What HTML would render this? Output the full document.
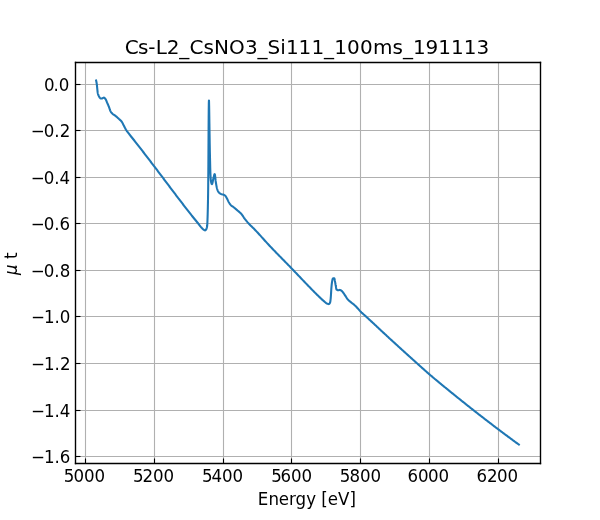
<!DOCTYPE html>
<html lang="en"><head><meta charset="utf-8"><title>Cs-L2_CsNO3_Si111_100ms_191113</title>
<style>html,body{margin:0;padding:0;background:#fff}svg{display:block}</style></head>
<body>
<svg width="600" height="520" viewBox="0 0 600 520">
<rect width="600" height="520" fill="#ffffff"/>
<g stroke="#b0b0b0" stroke-width="1.111" fill="none">
<line x1="85.5" y1="62.4" x2="85.5" y2="462.8"/>
<line x1="154.5" y1="62.4" x2="154.5" y2="462.8"/>
<line x1="223.5" y1="62.4" x2="223.5" y2="462.8"/>
<line x1="291.5" y1="62.4" x2="291.5" y2="462.8"/>
<line x1="360.5" y1="62.4" x2="360.5" y2="462.8"/>
<line x1="429.5" y1="62.4" x2="429.5" y2="462.8"/>
<line x1="498.5" y1="62.4" x2="498.5" y2="462.8"/>
<line x1="75.0" y1="84.5" x2="540.0" y2="84.5"/>
<line x1="75.0" y1="130.5" x2="540.0" y2="130.5"/>
<line x1="75.0" y1="177.5" x2="540.0" y2="177.5"/>
<line x1="75.0" y1="223.5" x2="540.0" y2="223.5"/>
<line x1="75.0" y1="270.5" x2="540.0" y2="270.5"/>
<line x1="75.0" y1="316.5" x2="540.0" y2="316.5"/>
<line x1="75.0" y1="363.5" x2="540.0" y2="363.5"/>
<line x1="75.0" y1="410.5" x2="540.0" y2="410.5"/>
<line x1="75.0" y1="456.5" x2="540.0" y2="456.5"/>
</g>
<clipPath id="c"><rect x="75.0" y="62.4" width="465.0" height="400.40000000000003"/></clipPath>
<polyline clip-path="url(#c)" points="96.14,80.60 96.34,81.55 96.52,82.51 96.68,83.46 96.82,84.42 96.90,85.00 96.95,85.38 97.04,86.35 97.13,87.31 97.20,88.00 97.23,88.28 97.32,89.25 97.41,90.22 97.51,91.19 97.63,92.15 97.78,93.10 97.80,93.20 98.00,94.04 98.32,94.97 98.71,95.88 99.16,96.73 99.20,96.80 99.70,97.62 100.38,98.33 100.60,98.40 101.27,98.47 102.00,98.50 102.25,98.46 103.13,97.90 103.80,97.60 103.96,97.62 104.75,98.13 105.44,98.97 105.60,99.20 105.93,99.76 106.33,100.65 106.68,101.58 107.00,102.40 107.04,102.50 107.44,103.38 107.83,104.27 108.22,105.16 108.40,105.60 108.59,106.06 108.94,106.96 109.28,107.87 109.40,108.20 109.59,108.79 109.88,109.73 110.20,110.60 110.21,110.62 110.66,111.48 111.21,112.31 111.82,113.08 112.30,113.60 112.47,113.76 113.22,114.35 114.04,114.88 114.88,115.42 115.40,115.80 115.65,116.00 116.40,116.62 117.13,117.26 117.85,117.91 118.56,118.57 118.80,118.80 119.27,119.23 120.01,119.89 120.72,120.57 121.38,121.27 121.80,121.80 121.95,122.02 122.43,122.85 122.87,123.73 123.30,124.61 123.50,125.00 123.75,125.47 124.20,126.33 124.64,127.20 125.09,128.06 125.56,128.91 126.04,129.75 126.20,130.00 126.56,130.56 127.11,131.36 127.69,132.14 128.27,132.91 128.87,133.68 129.46,134.45 129.50,134.50 130.06,135.22 130.66,135.98 131.27,136.73 131.88,137.49 132.49,138.24 133.10,139.00 133.70,139.75 133.90,140.00 134.31,140.51 134.91,141.28 135.50,142.04 136.10,142.80 136.70,143.57 137.30,144.33 137.89,145.09 138.49,145.86 139.09,146.63 139.68,147.39 140.27,148.16 140.87,148.93 141.46,149.69 142.05,150.46 142.65,151.23 143.24,152.00 143.83,152.76 144.42,153.53 145.01,154.30 145.60,155.07 146.20,155.84 146.79,156.61 147.38,157.38 147.97,158.15 148.55,158.92 149.14,159.69 149.73,160.46 150.32,161.23 150.91,162.00 151.50,162.77 152.09,163.54 152.68,164.32 153.27,165.09 153.86,165.86 154.44,166.63 154.50,166.70 155.03,167.40 155.62,168.17 156.21,168.94 156.80,169.71 157.38,170.49 157.97,171.26 158.55,172.03 159.14,172.81 159.72,173.58 160.31,174.35 160.89,175.13 161.48,175.90 162.06,176.68 162.64,177.45 163.23,178.23 163.81,179.00 164.39,179.78 164.98,180.55 165.56,181.33 166.14,182.10 166.73,182.88 167.31,183.65 167.89,184.43 168.48,185.20 169.06,185.98 169.64,186.75 170.23,187.53 170.81,188.30 171.39,189.07 171.98,189.85 172.56,190.62 173.15,191.40 173.73,192.17 174.32,192.94 174.91,193.71 175.49,194.49 176.08,195.26 176.67,196.03 177.26,196.80 177.85,197.57 178.25,198.10 178.44,198.34 179.02,199.11 179.61,199.88 180.20,200.65 180.79,201.42 181.38,202.19 181.97,202.96 182.56,203.73 183.15,204.50 183.74,205.27 184.33,206.04 184.93,206.81 185.52,207.58 186.11,208.35 186.71,209.11 187.30,209.88 187.90,210.64 188.49,211.41 189.09,212.17 189.69,212.94 190.29,213.70 190.89,214.46 191.40,215.10 191.49,215.22 192.10,215.98 192.71,216.73 193.32,217.48 193.93,218.24 194.54,218.99 195.16,219.74 195.77,220.49 196.39,221.24 197.00,221.99 197.61,222.74 198.22,223.50 198.30,223.60 198.82,224.26 199.41,225.04 200.00,225.81 200.60,226.57 201.23,227.31 201.40,227.50 201.88,228.03 202.56,228.74 203.28,229.39 203.70,229.70 204.08,229.95 204.97,230.39 205.10,230.40 205.74,230.02 206.35,229.11 206.40,229.00 206.67,228.26 206.92,227.31 207.10,226.32 207.20,225.50 207.21,225.34 207.28,224.38 207.34,223.41 207.39,222.44 207.43,221.47 207.46,220.50 207.50,219.53 207.50,219.40 207.53,218.56 207.57,217.59 207.60,216.62 207.63,215.65 207.66,214.68 207.69,213.71 207.71,212.74 207.74,211.77 207.77,210.80 207.79,209.83 207.80,209.40 207.81,208.86 207.84,207.89 207.86,206.92 207.88,205.95 207.90,204.98 207.92,204.02 207.94,203.05 207.96,202.08 207.98,201.11 208.00,200.14 208.02,199.17 208.03,198.20 208.05,197.23 208.07,196.26 208.08,195.29 208.10,194.32 208.10,194.00 208.11,193.35 208.12,192.38 208.13,191.41 208.14,190.44 208.16,189.47 208.17,188.50 208.18,187.53 208.19,186.56 208.20,185.59 208.21,184.62 208.21,183.65 208.22,182.68 208.23,181.71 208.24,180.74 208.25,180.00 208.25,179.77 208.26,178.78 208.27,177.77 208.28,176.74 208.29,175.69 208.30,174.62 208.31,173.52 208.32,172.41 208.33,171.29 208.33,170.14 208.34,168.98 208.35,167.81 208.36,166.62 208.37,165.42 208.38,164.21 208.38,162.98 208.39,161.75 208.40,160.50 208.41,159.25 208.42,157.99 208.42,156.72 208.43,155.45 208.44,154.17 208.45,152.88 208.45,151.59 208.46,150.30 208.47,149.01 208.48,147.72 208.48,146.42 208.49,145.13 208.50,143.84 208.51,142.55 208.51,141.27 208.52,139.99 208.53,138.71 208.54,137.45 208.54,136.18 208.55,134.93 208.56,133.68 208.56,132.45 208.57,131.22 208.58,130.01 208.59,128.80 208.59,127.61 208.60,126.44 208.61,125.28 208.62,124.13 208.63,123.00 208.63,121.89 208.64,120.80 208.65,119.72 208.66,118.67 208.66,117.64 208.67,116.62 208.68,115.63 208.69,114.67 208.70,113.73 208.71,112.81 208.71,111.92 208.72,111.06 208.73,110.22 208.74,109.41 208.75,108.63 208.76,107.89 208.77,107.17 208.78,106.49 208.79,105.83 208.80,105.22 208.80,104.63 208.81,104.09 208.82,103.58 208.83,103.10 208.84,102.67 208.85,102.27 208.87,101.91 208.88,101.60 208.89,101.32 208.90,101.09 208.91,100.91 208.92,100.76 208.93,100.66 208.94,100.61 208.95,100.60 208.95,100.60 208.97,100.66 208.98,100.77 208.99,100.95 209.00,101.18 209.02,101.47 209.03,101.82 209.04,102.22 209.05,102.67 209.07,103.17 209.08,103.72 209.09,104.32 209.11,104.96 209.12,105.64 209.14,106.37 209.15,107.14 209.17,107.95 209.18,108.80 209.20,109.69 209.21,110.60 209.23,111.56 209.24,112.54 209.26,113.56 209.27,114.60 209.29,115.67 209.31,116.76 209.32,117.88 209.34,119.02 209.36,120.19 209.37,121.37 209.39,122.57 209.41,123.79 209.43,125.02 209.44,126.26 209.46,127.51 209.48,128.78 209.50,130.05 209.52,131.34 209.54,132.62 209.56,133.91 209.58,135.20 209.60,136.50 209.62,137.79 209.64,139.08 209.66,140.36 209.68,141.64 209.70,142.92 209.72,144.18 209.75,145.44 209.77,146.68 209.79,147.91 209.81,149.12 209.83,150.32 209.86,151.50 209.88,152.66 209.91,153.80 209.93,154.92 209.95,156.01 209.98,157.08 210.00,158.12 210.03,159.13 210.05,160.00 210.05,160.12 210.08,161.09 210.10,162.06 210.12,163.03 210.15,164.01 210.17,164.98 210.19,165.96 210.21,166.93 210.24,167.91 210.26,168.88 210.29,169.86 210.32,170.83 210.35,171.80 210.39,172.77 210.43,173.74 210.47,174.71 210.52,175.68 210.57,176.64 210.63,177.60 210.69,178.56 210.76,179.51 210.80,180.00 210.85,180.50 211.05,181.71 211.33,182.91 211.63,183.84 211.90,184.20 211.90,184.20 212.14,183.93 212.39,183.23 212.62,182.21 212.87,181.02 213.11,179.77 213.35,178.60 213.50,178.00 213.60,177.59 213.88,176.39 214.16,175.20 214.41,174.30 214.60,174.00 214.62,174.00 214.80,174.27 214.95,174.91 215.09,175.83 215.22,176.95 215.35,178.19 215.48,179.47 215.62,180.70 215.77,181.79 215.80,182.00 215.92,182.76 216.08,183.72 216.23,184.69 216.40,185.65 216.58,186.61 216.78,187.55 217.01,188.48 217.10,188.80 217.29,189.40 217.63,190.35 218.05,191.26 218.53,192.07 218.70,192.30 219.13,192.77 219.91,193.40 220.77,193.90 221.00,194.00 221.66,194.21 222.62,194.43 223.20,194.60 223.55,194.73 224.46,195.15 225.00,195.50 225.20,195.68 225.79,196.43 226.31,197.30 226.70,198.00 226.79,198.16 227.24,199.02 227.65,199.90 228.06,200.79 228.49,201.66 228.85,202.30 228.97,202.49 229.48,203.33 230.04,204.14 230.63,204.90 231.00,205.30 231.29,205.58 232.05,206.16 232.87,206.71 233.68,207.26 234.00,207.50 234.45,207.86 235.19,208.48 235.93,209.12 236.66,209.76 237.38,210.40 237.50,210.50 238.12,211.03 238.87,211.66 239.62,212.29 240.35,212.93 241.04,213.61 241.40,214.00 241.67,214.32 242.25,215.09 242.79,215.89 243.32,216.71 243.86,217.53 244.40,218.30 244.42,218.32 245.00,219.10 245.60,219.86 246.20,220.63 246.82,221.38 247.44,222.12 248.08,222.85 248.30,223.10 248.73,223.57 249.39,224.27 250.07,224.96 250.77,225.64 251.46,226.31 252.17,226.99 252.86,227.66 253.56,228.34 254.24,229.03 254.40,229.20 254.91,229.73 255.58,230.43 256.24,231.14 256.91,231.85 257.57,232.56 258.22,233.27 258.88,233.99 259.53,234.70 260.19,235.42 260.84,236.14 261.49,236.86 262.14,237.58 262.78,238.30 263.43,239.02 264.08,239.75 264.73,240.47 265.38,241.19 266.03,241.91 266.69,242.62 267.34,243.34 268.00,244.05 268.66,244.76 269.32,245.47 269.98,246.18 270.00,246.20 270.65,246.89 271.32,247.59 271.98,248.29 272.65,248.99 273.33,249.69 274.00,250.39 274.67,251.09 275.35,251.78 276.02,252.48 276.70,253.18 277.38,253.87 278.05,254.56 278.73,255.26 279.41,255.95 280.09,256.64 280.77,257.33 281.45,258.03 282.13,258.72 282.81,259.41 283.49,260.10 284.17,260.79 284.85,261.49 285.53,262.18 286.21,262.87 286.89,263.56 287.57,264.26 288.24,264.95 288.92,265.64 289.60,266.34 290.27,267.04 290.95,267.73 291.40,268.20 291.62,268.43 292.30,269.13 292.97,269.83 293.64,270.53 294.31,271.23 294.98,271.93 295.65,272.63 296.32,273.33 296.99,274.03 297.66,274.73 298.33,275.43 299.00,276.14 299.67,276.84 300.34,277.54 301.01,278.24 301.68,278.94 302.35,279.64 303.02,280.35 303.69,281.05 304.36,281.75 305.03,282.45 305.70,283.15 306.37,283.85 307.05,284.55 307.72,285.24 308.39,285.94 309.07,286.64 309.74,287.34 310.00,287.60 310.42,288.03 311.10,288.73 311.77,289.42 312.45,290.12 313.13,290.81 313.81,291.50 314.49,292.19 315.00,292.70 315.18,292.88 315.86,293.56 316.55,294.25 317.24,294.93 317.93,295.61 318.62,296.29 319.32,296.96 320.00,297.60 320.03,297.63 320.73,298.29 321.44,298.95 322.16,299.61 322.88,300.26 323.61,300.90 324.20,301.40 324.35,301.52 325.09,302.18 325.84,302.82 326.63,303.36 326.90,303.50 327.52,303.78 328.46,304.08 328.70,304.10 329.29,303.81 329.94,302.95 330.00,302.80 330.20,302.11 330.38,301.18 330.51,300.18 330.62,299.16 330.70,298.30 330.71,298.18 330.80,297.22 330.87,296.25 330.94,295.28 331.00,294.31 331.05,293.34 331.11,292.38 331.16,291.41 331.22,290.44 331.28,289.47 331.35,288.50 331.40,287.90 331.43,287.53 331.52,286.56 331.60,285.59 331.70,284.62 331.81,283.66 331.94,282.70 332.09,281.75 332.10,281.70 332.27,280.65 332.51,279.44 332.83,278.50 333.20,278.20 333.32,278.20 334.20,278.20 334.25,278.21 334.56,278.85 334.75,280.04 334.90,281.00 334.93,281.15 335.12,282.10 335.29,283.05 335.46,284.01 335.62,284.97 335.80,285.90 335.80,285.92 335.97,286.94 336.13,288.01 336.33,288.97 336.60,289.60 336.65,289.67 337.51,290.20 338.00,290.30 338.47,290.22 339.42,289.93 339.70,289.90 340.35,290.04 341.24,290.53 341.50,290.70 341.97,291.10 342.60,291.84 343.18,292.66 343.50,293.10 343.76,293.45 344.31,294.25 344.84,295.06 345.38,295.87 345.60,296.20 345.92,296.68 346.44,297.51 346.97,298.33 347.53,299.12 348.00,299.70 348.14,299.85 348.83,300.52 349.58,301.15 350.34,301.77 350.50,301.90 351.09,302.37 351.86,302.96 352.64,303.55 353.20,304.00 353.39,304.16 354.13,304.79 354.86,305.43 355.57,306.09 356.00,306.50 356.26,306.76 356.93,307.47 357.57,308.19 358.20,308.93 358.84,309.67 359.47,310.40 360.13,311.12 360.50,311.50 360.81,311.81 361.51,312.48 362.22,313.13 362.94,313.78 363.67,314.43 364.40,315.07 365.12,315.71 365.85,316.36 366.00,316.50 366.56,317.02 367.28,317.67 367.99,318.33 368.70,318.99 369.41,319.65 370.12,320.30 370.84,320.96 371.55,321.62 372.26,322.28 372.97,322.95 373.68,323.61 374.39,324.27 375.09,324.93 375.80,325.59 376.51,326.25 377.22,326.92 377.93,327.58 378.64,328.24 379.35,328.90 380.05,329.57 380.76,330.23 381.47,330.89 382.18,331.55 382.89,332.21 383.60,332.88 384.31,333.54 385.02,334.20 385.73,334.86 386.44,335.52 387.15,336.18 387.87,336.83 388.58,337.49 389.29,338.15 390.00,338.80 390.01,338.81 390.72,339.46 391.44,340.12 392.15,340.77 392.87,341.43 393.58,342.08 394.30,342.74 395.01,343.39 395.73,344.05 396.44,344.70 397.16,345.35 397.88,346.01 398.59,346.66 399.31,347.31 400.03,347.97 400.75,348.62 401.46,349.27 402.18,349.92 402.90,350.58 403.62,351.23 404.34,351.88 405.05,352.53 405.77,353.18 406.49,353.83 407.21,354.48 407.93,355.14 408.65,355.79 409.37,356.44 410.09,357.09 410.81,357.73 411.53,358.38 412.25,359.03 412.97,359.68 413.69,360.33 414.42,360.98 415.14,361.63 415.86,362.28 416.58,362.92 417.00,363.30 417.30,363.57 418.02,364.22 418.75,364.87 419.47,365.52 420.19,366.17 420.91,366.81 421.63,367.46 422.35,368.11 423.08,368.76 423.80,369.40 424.52,370.05 425.25,370.69 425.97,371.34 426.70,371.98 427.43,372.62 428.16,373.25 428.89,373.89 429.60,374.50 429.63,374.52 430.36,375.16 431.10,375.79 431.84,376.41 432.58,377.04 433.32,377.67 434.06,378.29 434.80,378.92 435.55,379.54 436.29,380.16 437.04,380.78 437.78,381.40 438.53,382.02 439.28,382.64 440.03,383.25 440.78,383.87 441.53,384.48 442.28,385.10 443.03,385.71 443.78,386.33 444.53,386.94 445.28,387.56 446.03,388.17 446.78,388.78 447.54,389.39 448.29,390.01 449.04,390.62 449.79,391.23 450.00,391.40 450.55,391.84 451.30,392.46 452.05,393.07 452.80,393.68 453.56,394.29 454.31,394.90 455.06,395.51 455.82,396.12 456.57,396.73 457.33,397.34 458.08,397.95 458.84,398.55 459.60,399.16 460.35,399.77 461.11,400.38 461.87,400.98 462.62,401.59 463.38,402.19 464.14,402.80 464.90,403.40 465.66,404.01 466.42,404.61 467.18,405.21 467.94,405.82 468.70,406.42 469.46,407.02 470.22,407.62 470.98,408.22 471.74,408.82 472.50,409.42 473.27,410.02 474.00,410.60 474.03,410.62 474.79,411.22 475.55,411.82 476.32,412.42 477.08,413.01 477.85,413.61 478.61,414.21 479.38,414.80 480.14,415.40 480.91,415.99 481.67,416.59 482.44,417.18 483.21,417.78 483.97,418.37 484.74,418.96 485.51,419.56 486.28,420.15 487.05,420.74 487.82,421.33 488.59,421.92 489.35,422.51 490.12,423.10 490.90,423.69 491.67,424.28 492.44,424.87 493.21,425.46 493.98,426.05 494.75,426.63 495.52,427.22 496.30,427.81 497.07,428.39 497.84,428.98 498.40,429.40 498.62,429.56 499.39,430.15 500.16,430.73 500.94,431.32 501.71,431.90 502.49,432.48 503.27,433.06 504.04,433.64 504.82,434.22 505.59,434.81 506.37,435.39 507.15,435.96 507.93,436.54 508.71,437.12 509.49,437.70 510.27,438.28 511.04,438.85 511.82,439.43 512.60,440.01 513.39,440.58 514.17,441.16 514.95,441.73 515.73,442.31 516.51,442.88 517.29,443.45 518.08,444.03 518.86,444.60" fill="none" stroke="#1f77b4" stroke-width="2.083" stroke-linejoin="round" stroke-linecap="square"/>
<g stroke="#000" stroke-width="1.111" fill="none">
<line x1="85.5" y1="463.5" x2="85.5" y2="458.494"/>
<line x1="154.5" y1="463.5" x2="154.5" y2="458.494"/>
<line x1="223.5" y1="463.5" x2="223.5" y2="458.494"/>
<line x1="291.5" y1="463.5" x2="291.5" y2="458.494"/>
<line x1="360.5" y1="463.5" x2="360.5" y2="458.494"/>
<line x1="429.5" y1="463.5" x2="429.5" y2="458.494"/>
<line x1="498.5" y1="463.5" x2="498.5" y2="458.494"/>
<line x1="75.5" y1="84.5" x2="80.506" y2="84.5"/>
<line x1="75.5" y1="130.5" x2="80.506" y2="130.5"/>
<line x1="75.5" y1="177.5" x2="80.506" y2="177.5"/>
<line x1="75.5" y1="223.5" x2="80.506" y2="223.5"/>
<line x1="75.5" y1="270.5" x2="80.506" y2="270.5"/>
<line x1="75.5" y1="316.5" x2="80.506" y2="316.5"/>
<line x1="75.5" y1="363.5" x2="80.506" y2="363.5"/>
<line x1="75.5" y1="410.5" x2="80.506" y2="410.5"/>
<line x1="75.5" y1="456.5" x2="80.506" y2="456.5"/>
</g>
<g stroke="#000" stroke-width="1.389" fill="none" stroke-linecap="square">
<line x1="75.5" y1="62.5" x2="75.5" y2="463.5"/>
<line x1="540.5" y1="62.5" x2="540.5" y2="463.5"/>
<line x1="75.5" y1="62.5" x2="540.5" y2="62.5" stroke-width="1.31"/>
<line x1="75.5" y1="463.5" x2="540.5" y2="463.5" stroke-width="1.31"/>
</g>
<g font-family="'DejaVu Sans','Liberation Sans',sans-serif" fill="#000">
<text transform="translate(64,482) scale(1,1.05)" font-size="16.667px" x="-0.15 9.55 19.93 30.62" y="0">5000</text>
<text transform="translate(133,482) scale(1,1.05)" font-size="16.667px" x="-0.02 9.41 20.11 30.55" y="0">5200</text>
<text transform="translate(202,482) scale(1,1.05)" font-size="16.667px" x="0.00 9.46 19.95 30.62" y="0">5400</text>
<text transform="translate(270,482) scale(1,1.05)" font-size="16.667px" x="1.27 10.45 20.95 31.61" y="0">5600</text>
<text transform="translate(339,482) scale(1,1.05)" font-size="16.667px" x="0.82 10.39 20.95 31.61" y="0">5800</text>
<text transform="translate(408,482) scale(1,1.05)" font-size="16.667px" x="-0.53 9.97 19.93 30.62" y="0">6000</text>
<text transform="translate(477,482) scale(1,1.05)" font-size="16.667px" x="-0.60 9.89 20.11 30.55" y="0">6200</text>
<text transform="translate(44,91) scale(1,1.05)" font-size="16.667px" x="-0.04 9.50 14.76" y="0">0.0</text>
<text transform="translate(30,137) scale(1,1.05)" font-size="16.667px" x="0.82 13.80 24.35 29.64" y="0">−0.2</text>
<text transform="translate(30,184) scale(1,1.05)" font-size="16.667px" x="0.82 13.80 24.35 29.56" y="0">−0.4</text>
<text transform="translate(30,230) scale(1,1.05)" font-size="16.667px" x="0.82 13.80 24.35 29.53" y="0">−0.6</text>
<text transform="translate(30,277) scale(1,1.05)" font-size="16.667px" x="0.82 13.80 24.35 29.70" y="0">−0.8</text>
<text transform="translate(30,323) scale(1,1.05)" font-size="16.667px" x="1.03 14.03 24.50 29.76" y="0">−1.0</text>
<text transform="translate(30,370) scale(1,1.05)" font-size="16.667px" x="1.03 14.03 24.50 29.89" y="0">−1.2</text>
<text transform="translate(30,417) scale(1,1.05)" font-size="16.667px" x="1.03 14.03 24.50 29.68" y="0">−1.4</text>
<text transform="translate(30,463) scale(1,1.05)" font-size="16.667px" x="1.03 14.03 24.50 29.74" y="0">−1.6</text>
<text transform="translate(258,505) scale(1,1.05)" font-size="16.667px" x="-0.20 10.41 20.76 30.98 37.61 48.22 58.12 63.36 69.66 79.91 91.61" y="0">Energy [eV]</text>
<text transform="translate(125,54) scale(1,1.0)" font-size="20px" x="-0.16 12.88 23.32 30.64 41.86 54.29 64.41 78.62 89.11 104.02 119.88 132.59 142.61 155.30 160.91 173.58 186.41 199.09 209.24 222.10 235.09 247.98 267.60 277.98 287.92 300.51 313.20 325.94 338.87 351.45" y="0 0 0 0 0 0.6 0 0 0 0 0 0.6 0 0 0 0 0 0.6 0 0 0 0 0 0.6 0 0 0 0 0 0">Cs-L2_CsNO3_Si111_100ms_191113</text>
<text transform="translate(17,275.0) rotate(-90) scale(1,1.05)" font-size="16.667px"><tspan font-style="italic" x="0">μ</tspan> <tspan x="16.1">t</tspan></text>
</g>
</svg>
</body></html>
